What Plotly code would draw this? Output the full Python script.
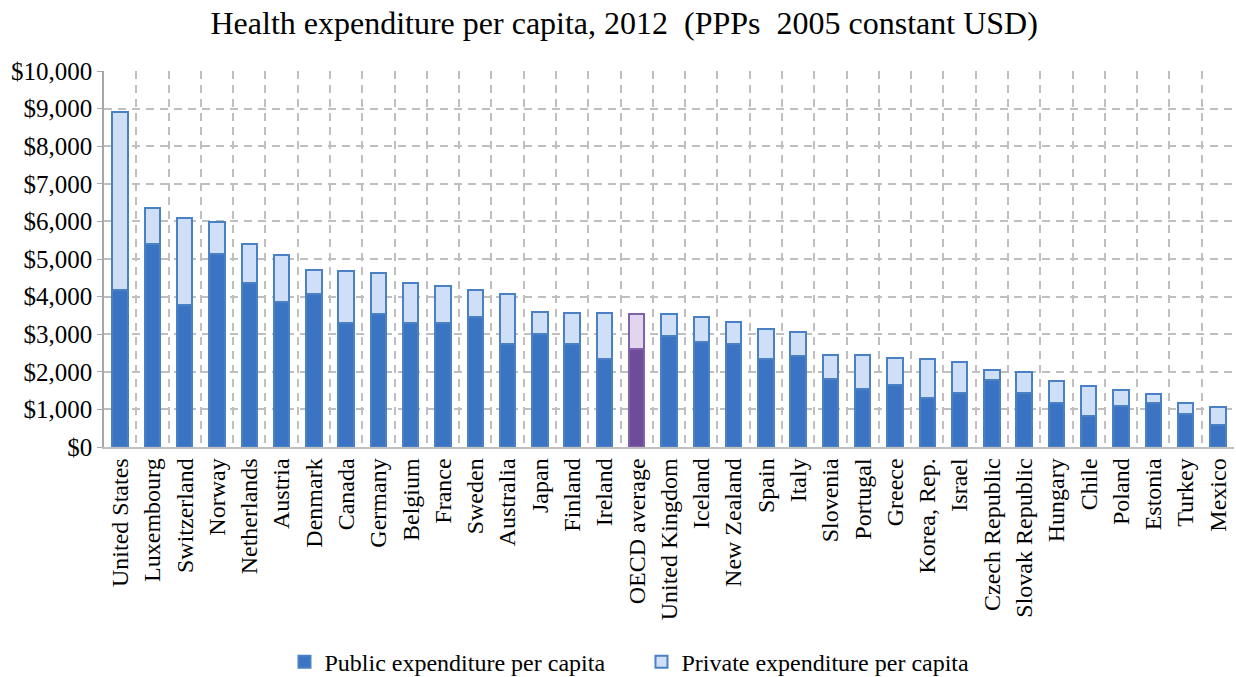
import plotly.graph_objects as go

countries = ["United States", "Luxembourg", "Switzerland", "Norway", "Netherlands", "Austria",
             "Denmark", "Canada", "Germany", "Belgium", "France", "Sweden", "Australia", "Japan",
             "Finland", "Ireland", "OECD average", "United Kingdom", "Iceland", "New Zealand",
             "Spain", "Italy", "Slovenia", "Portugal", "Greece", "Korea, Rep.", "Israel",
             "Czech Republic", "Slovak Republic", "Hungary", "Chile", "Poland", "Estonia",
             "Turkey", "Mexico"]

total = [8920, 6360, 6080, 5980, 5400, 5100, 4710, 4680, 4620, 4350, 4280, 4180, 4080, 3600,
         3570, 3570, 3530, 3530, 3460, 3330, 3150, 3050, 2440, 2440, 2380, 2340, 2270,
         2060, 2000, 1760, 1630, 1510, 1420, 1180, 1070]

public = [4170, 5400, 3790, 5120, 4350, 3860, 4070, 3310, 3550, 3310, 3300, 3450, 2750, 3000,
          2730, 2330, 2600, 2940, 2790, 2750, 2350, 2420, 1810, 1540, 1640, 1310, 1440,
          1780, 1440, 1160, 820, 1100, 1160, 890, 580]

private = [t - p for t, p in zip(total, public)]

y_ticks = [0, 1000, 2000, 3000, 4000, 5000, 6000, 7000, 8000, 9000, 10000]
y_labels = ["$0", "$1,000", "$2,000", "$3,000", "$4,000", "$5,000",
            "$6,000", "$7,000", "$8,000", "$9,000", "$10,000"]

pub_col, prv_col, edge_col = "#3A74C2", "#CFDFF8", "#4A80C4"
oecd_pub, oecd_prv, oecd_edge = "#6E4C99", "#E2D6EF", "#7E62AA"

pub_colors = [oecd_pub if c == "OECD average" else pub_col for c in countries]
prv_colors = [oecd_prv if c == "OECD average" else prv_col for c in countries]
edge_colors = [oecd_edge if c == "OECD average" else edge_col for c in countries]

FF = "Liberation Serif"

fig = go.Figure()
fig.add_trace(go.Bar(
    x=countries, y=public, name="Public expenditure per capita",
    marker=dict(color=pub_colors, line=dict(color=edge_colors, width=2)),
))
fig.add_trace(go.Bar(
    x=countries, y=private, name="Private expenditure per capita",
    marker=dict(color=prv_colors, line=dict(color=edge_colors, width=2)),
))

fig.update_layout(
    barmode="stack",
    bargap=0.52,
    width=1236, height=677,
    margin=dict(l=104, r=2, t=71, b=230),
    plot_bgcolor="white", paper_bgcolor="white",
    font=dict(family=FF, color="black", size=22),
    title=dict(text="Health expenditure per capita, 2012  (PPPs  2005 constant USD)",
               x=0.505, xref="container", xanchor="center",
               y=0.967, yref="container", yanchor="middle",
               font=dict(size=32, family=FF, color="black")),
    showlegend=True,
    legend=dict(orientation="h", xref="container", x=0.519, xanchor="center",
                yref="container", y=0.022, yanchor="middle",
                traceorder="normal", font=dict(size=24, family=FF, color="black"),
                entrywidth=312, entrywidthmode="pixels", itemclick=False,
                bgcolor="rgba(0,0,0,0)"),
)

fig.update_xaxes(
    type="category", tickangle=-90, automargin=False,
    tickfont=dict(size=24, family=FF, color="black"),
    showgrid=True, gridcolor="#BFBFBF", gridwidth=1.5, griddash="8px,6px",
    tickson="boundaries", ticks="", showline=True, linecolor="#BFBFBF", linewidth=1.5,
    range=[-0.5, len(countries) - 0.5],
)
fig.update_yaxes(
    range=[0, 10000], tickmode="array", tickvals=y_ticks, ticktext=y_labels,
    automargin=False,
    tickfont=dict(size=25, family=FF, color="black"),
    showgrid=True, gridcolor="#BFBFBF", gridwidth=1.5, griddash="8px,6px",
    showline=True, linecolor="#A6A6A6", linewidth=1.5,
    ticks="outside", ticklen=5, tickcolor="#A6A6A6", zeroline=False,
)

fig.write_html("out.html")
